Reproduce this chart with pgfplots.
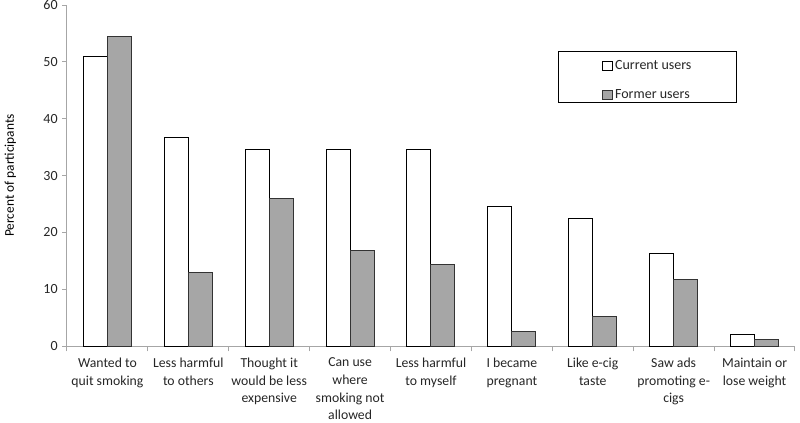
\documentclass[border=0pt]{standalone}
\usepackage{pgfplots}
\pgfplotsset{compat=1.18}
\usepackage{fontspec}
\setmainfont{Carlito}
\definecolor{formergray}{HTML}{A6A6A6}
\definecolor{axisgray}{HTML}{A6A6A6}
\definecolor{txt}{HTML}{262626}
\begin{document}
\begin{tikzpicture}
\begin{axis}[
  scale only axis,
  width=546pt, height=255.75pt,
  ybar, bar width=18pt, ybar=0pt,
  ymin=0, ymax=60, ytick={0,10,...,60},
  xmin=-0.5, xmax=8.5,
  xtick={0,...,8},
  xticklabels={{Wanted to\\quit smoking},{Less harmful\\to others},{Thought it\\would be less\\expensive},{Can use\\where\\smoking not\\allowed},{Less harmful\\to myself},{I became\\pregnant},{Like e-cig\\taste},{Saw ads\\promoting e-\\cigs},{Maintain or\\lose weight}},
  minor xtick={-0.5,0.5,...,8.5},
  major x tick style={draw=none},
  minor x tick style={axisgray, line width=0.75pt},
  minor tick length=4pt,
  major tick length=3.5pt,
  tick align=outside,
  y tick style={axisgray, line width=0.75pt},
  axis x line*=bottom, axis y line*=left,
  axis line style={axisgray, line width=0.75pt, -},
  xticklabel style={align=center, font=\fontsize{10.3}{13.2}\selectfont, text=txt, yshift=-2pt},
  yticklabel style={font=\fontsize{10.5}{12}\selectfont, text=txt},
  /pgf/number format/assume math mode=true,
  ylabel={Percent of participants},
  ylabel style={font=\fontsize{9.3}{11}\selectfont, text=txt},
  every axis y label/.style={at={(-50.25pt,0.5)}, rotate=90, anchor=north},
  legend style={at={(0.6745,0.8651)}, anchor=north west, draw=none, fill=none,
    xshift=33pt, yshift=-4.7pt,
    font=\fontsize{10.5}{12}\selectfont, text=txt, inner xsep=0pt, inner ysep=0pt,
    row sep=9.5pt},
  legend cell align=left,
  legend image code/.code={\draw[#1, line width=0.6pt] (0pt,-3.5pt) rectangle (7pt,3.5pt);},
]
\addplot[draw=black, fill=white, line width=0.75pt] coordinates {(0,51.0) (1,36.7) (2,34.6) (3,34.6) (4,34.6) (5,24.5) (6,22.4) (7,16.2) (8,2.0)};
\addplot[draw=black!80, fill=formergray, line width=0.75pt] coordinates {(0,54.5) (1,12.9) (2,25.9) (3,16.8) (4,14.3) (5,2.5) (6,5.2) (7,11.7) (8,1.2)};
\legend{Current users, Former users}
\draw[black, line width=0.75pt] (rel axis cs:0.6745,0.8651) rectangle (rel axis cs:0.9203,0.7155);
\end{axis}
\pgfresetboundingbox
\path (-50.25pt,-57pt) rectangle (549.75pt,259.5pt);
\end{tikzpicture}
\end{document}
